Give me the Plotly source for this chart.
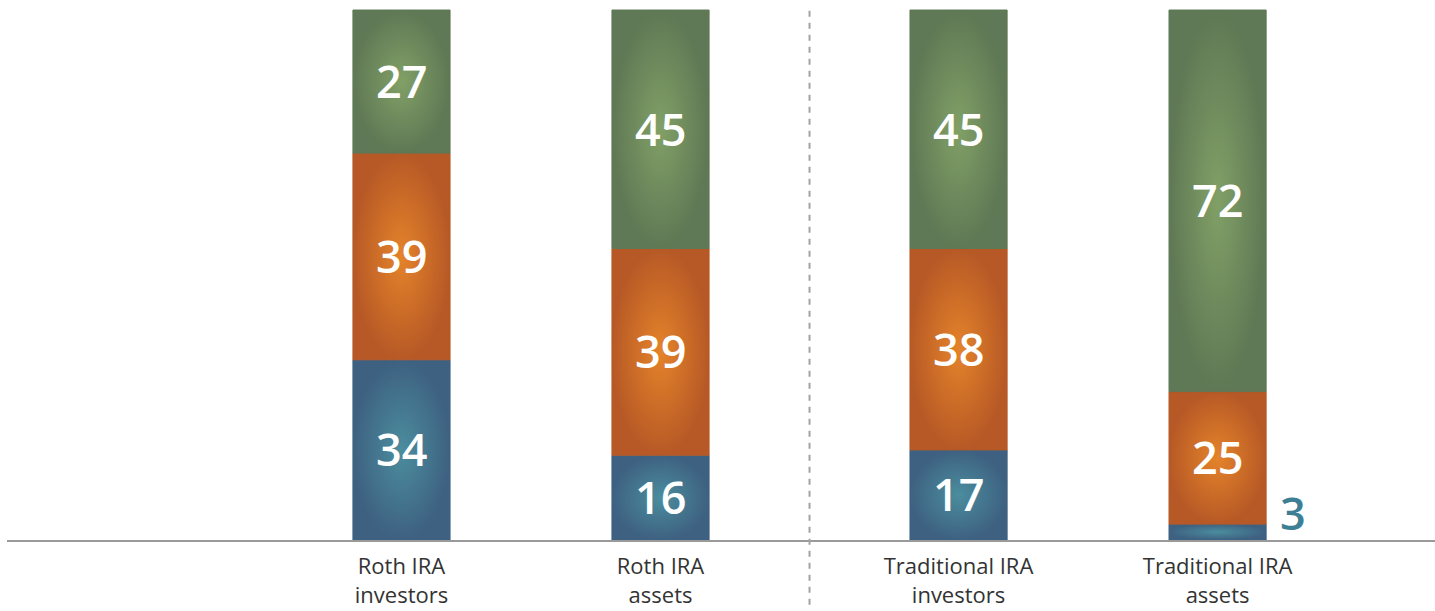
import plotly.graph_objects as go

# Share of investors / assets by group (percent), stacked bottom to top
categories = ["Roth IRA<br>investors", "Roth IRA<br>assets",
              "Traditional IRA<br>investors", "Traditional IRA<br>assets"]
series_names = ["Bottom", "Middle", "Top"]
bottom_vals = [34, 16, 17, 3]
middle_vals = [39, 39, 38, 25]
top_vals = [27, 45, 45, 72]

# gradient colours per series: (centre, edge)
grad_colors = [("#4b8d9e", "#3e6181"),
               ("#e4832a", "#b75926"),
               ("#81a066", "#5f7855")]

BAR_W = 0.375
GROUP_GAP = 0.1506
xpos = [i + (GROUP_GAP if i >= 2 else 0) for i in range(len(categories))]

VALUE_FONT = dict(family="Open Sans", size=45, color="white", weight=600)

fig = go.Figure()

series = [bottom_vals, middle_vals, top_vals]
base = [0] * len(categories)
for s_idx, vals in enumerate(series):
    c_in, c_out = grad_colors[s_idx]
    for i, v in enumerate(vals):
        x0, x1 = xpos[i] - BAR_W / 2, xpos[i] + BAR_W / 2
        y0, y1 = base[i], base[i] + v
        fig.add_trace(go.Scatter(
            x=[x0, x1, x1, x0, x0], y=[y0, y0, y1, y1, y0],
            mode="lines", line=dict(width=1, color=c_out), fill="toself",
            fillgradient=dict(type="radial",
                              colorscale=[[0, c_in], [1, c_out]]),
            hoverinfo="skip", showlegend=False, name=series_names[s_idx]))
        if v >= 10:
            fig.add_annotation(x=xpos[i], y=(y0 + y1) / 2, text=str(v),
                               showarrow=False, yanchor="middle", yshift=1,
                               font=VALUE_FONT)
        else:
            # too thin for an inside label: place it beside the bar
            fig.add_annotation(x=x1, y=y1, text=str(v), showarrow=False,
                               xanchor="left", yanchor="middle",
                               xshift=12, yshift=12,
                               font=dict(VALUE_FONT, color="#3d7f95"))
        base[i] += v

# dashed divider between the Roth and Traditional groups
mid = (xpos[1] + xpos[2]) / 2
fig.add_shape(type="line", xref="x", yref="paper", x0=mid, x1=mid,
              y0=-0.12, y1=0.9815,
              line=dict(color="#a3a3a3", width=2, dash="6px,6px"))

fig.update_xaxes(
    range=[-1.523, 3.990], tickvals=xpos, ticktext=categories,
    showgrid=False, zeroline=False, showline=True, linecolor="#9a9a9a",
    linewidth=1.5, ticks="", ticklabelstandoff=6, automargin=False,
    tickfont=dict(family="Open Sans", size=22, color="#333333"))
fig.update_yaxes(range=[0, 101.89], visible=False, showgrid=False,
                 zeroline=False, automargin=False)

fig.update_layout(
    width=1435, height=611, plot_bgcolor="white", paper_bgcolor="white",
    margin=dict(l=7, r=0, t=0, b=71), showlegend=False)

fig.write_html("out.html")
